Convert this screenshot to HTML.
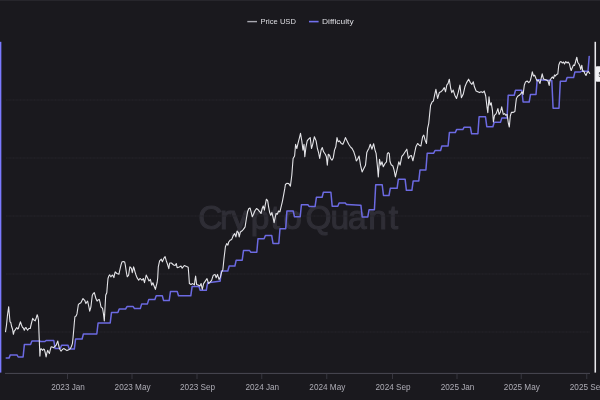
<!DOCTYPE html>
<html><head><meta charset="utf-8"><title>Price USD / Difficulty</title>
<style>
html,body{margin:0;padding:0;background:#1a191e;overflow:hidden}
body{width:600px;height:400px;position:relative;font-family:"Liberation Sans",Arial,sans-serif}
</style></head><body>
<svg width="600" height="400" viewBox="0 0 600 400" style="position:absolute;left:0;top:0">
<rect x="0" y="0" width="600" height="400" fill="#1a191e"/>
<rect x="0" y="0" width="600" height="1" fill="#27262c"/>
<text x="198.2 220 231 250.8 270.8 283.3 305.5 330.5 348 368.2 388.7" y="229.2" font-family="'Liberation Sans',Arial,sans-serif" font-size="33.5" fill="#2f2e36" stroke="#2f2e36" stroke-width="1.1">CryptoQuant</text>
<line x1="6" y1="100.0" x2="590" y2="100.0" stroke="#26252b" stroke-width="1.1" stroke-dasharray="1 0.4"/>
<line x1="6" y1="158.0" x2="590" y2="158.0" stroke="#26252b" stroke-width="1.1" stroke-dasharray="1 0.4"/>
<line x1="6" y1="216.0" x2="590" y2="216.0" stroke="#26252b" stroke-width="1.1" stroke-dasharray="1 0.4"/>
<line x1="6" y1="274.0" x2="590" y2="274.0" stroke="#26252b" stroke-width="1.1" stroke-dasharray="1 0.4"/>
<line x1="6" y1="332.0" x2="590" y2="332.0" stroke="#26252b" stroke-width="1.1" stroke-dasharray="1 0.4"/>
<line x1="5" y1="373.4" x2="590" y2="373.4" stroke="#4f4e59" stroke-width="0.9"/>
<line x1="67.50" y1="373.8" x2="67.50" y2="379" stroke="#3f3e48" stroke-width="0.8"/>
<line x1="132.00" y1="373.8" x2="132.00" y2="379" stroke="#3f3e48" stroke-width="0.8"/>
<line x1="197.00" y1="373.8" x2="197.00" y2="379" stroke="#3f3e48" stroke-width="0.8"/>
<line x1="261.75" y1="373.8" x2="261.75" y2="379" stroke="#3f3e48" stroke-width="0.8"/>
<line x1="326.75" y1="373.8" x2="326.75" y2="379" stroke="#3f3e48" stroke-width="0.8"/>
<line x1="392.50" y1="373.8" x2="392.50" y2="379" stroke="#3f3e48" stroke-width="0.8"/>
<line x1="457.00" y1="373.8" x2="457.00" y2="379" stroke="#3f3e48" stroke-width="0.8"/>
<line x1="521.25" y1="373.8" x2="521.25" y2="379" stroke="#3f3e48" stroke-width="0.8"/>
<line x1="586.75" y1="373.8" x2="586.75" y2="379" stroke="#3f3e48" stroke-width="0.8"/>
<text x="68.10" y="390" text-anchor="middle" font-family="'Liberation Sans',Arial,sans-serif" font-size="8.2" fill="#adacb5">2023 Jan</text>
<text x="132.60" y="390" text-anchor="middle" font-family="'Liberation Sans',Arial,sans-serif" font-size="8.2" fill="#adacb5">2023 May</text>
<text x="197.60" y="390" text-anchor="middle" font-family="'Liberation Sans',Arial,sans-serif" font-size="8.2" fill="#adacb5">2023 Sep</text>
<text x="262.35" y="390" text-anchor="middle" font-family="'Liberation Sans',Arial,sans-serif" font-size="8.2" fill="#adacb5">2024 Jan</text>
<text x="327.35" y="390" text-anchor="middle" font-family="'Liberation Sans',Arial,sans-serif" font-size="8.2" fill="#adacb5">2024 May</text>
<text x="393.10" y="390" text-anchor="middle" font-family="'Liberation Sans',Arial,sans-serif" font-size="8.2" fill="#adacb5">2024 Sep</text>
<text x="457.60" y="390" text-anchor="middle" font-family="'Liberation Sans',Arial,sans-serif" font-size="8.2" fill="#adacb5">2025 Jan</text>
<text x="521.85" y="390" text-anchor="middle" font-family="'Liberation Sans',Arial,sans-serif" font-size="8.2" fill="#adacb5">2025 May</text>
<text x="587.35" y="390" text-anchor="middle" font-family="'Liberation Sans',Arial,sans-serif" font-size="8.2" fill="#adacb5">2025 Sep</text>
<rect x="0" y="41.8" width="1.35" height="330.8" fill="#7b79ff"/>
<rect x="594.5" y="41.8" width="1.55" height="330.8" fill="#e8e8ec"/>
<path d="M6.2 358.1 L9.0 358.1 L10.3 354.9 L17.0 354.9 L18.2 357.0 L23.1 357.0 L24.4 344.4 L30.6 344.4 L31.9 340.9 L39.4 340.9 L40.6 341.5 L44.9 341.5 L46.1 340.5 L53.8 340.5 L55.1 348.6 L60.3 348.6 L61.6 345.2 L68.0 345.2 L69.3 349.1 L74.3 349.1 L75.6 339.0 L82.1 339.0 L83.4 334.0 L96.8 334.0 L98.1 323.0 L110.2 323.0 L111.5 312.6 L117.9 312.6 L119.2 309.0 L125.6 309.0 L127.0 306.6 L133.2 306.6 L134.5 308.6 L140.3 308.6 L141.7 303.9 L147.4 303.9 L148.8 299.4 L154.9 299.4 L156.2 295.7 L162.3 295.7 L163.6 300.6 L169.2 300.6 L170.5 291.4 L177.2 291.4 L178.5 295.8 L190.8 295.8 L192.1 286.6 L198.9 286.6 L200.2 290.3 L206.3 290.3 L207.6 282.8 L208.0 282.8 L219.3 281.2 L220.1 281.2 L221.4 271.0 L227.8 271.0 L229.2 266.0 L234.9 266.0 L236.2 260.2 L242.2 260.2 L243.5 250.6 L249.6 250.6 L250.9 252.2 L256.8 252.2 L258.0 238.8 L264.1 238.8 L265.4 235.4 L271.7 235.4 L273.0 243.4 L278.8 243.4 L280.0 228.7 L285.7 228.7 L286.9 211.0 L293.2 211.0 L294.5 216.8 L300.2 216.8 L301.4 204.8 L307.9 204.8 L309.1 206.4 L315.1 206.4 L316.4 197.3 L322.1 197.3 L323.4 192.3 L330.9 192.3 L332.2 206.2 L337.8 206.2 L339.1 203.0 L345.3 203.0 L346.6 204.6 L347.1 204.6 L360.4 205.2 L360.9 205.2 L362.2 216.9 L367.8 216.9 L369.1 209.7 L374.4 209.7 L375.7 184.8 L382.2 184.8 L383.5 195.5 L389.0 195.5 L390.3 188.3 L397.1 188.3 L398.4 179.2 L405.1 179.2 L406.4 190.3 L411.9 190.3 L413.2 180.9 L418.8 180.9 L420.0 170.0 L425.9 170.0 L427.2 153.2 L433.7 153.2 L435.0 150.5 L440.6 150.5 L441.8 146.0 L448.1 146.0 L449.4 132.6 L455.3 132.6 L456.6 129.6 L462.8 129.6 L464.0 127.3 L470.4 127.3 L471.6 133.8 L477.9 133.8 L479.1 116.8 L485.5 116.8 L486.8 126.7 L492.9 126.7 L494.2 122.3 L500.5 122.3 L501.8 118.1 L507.0 118.1 L508.2 95.2 L514.2 95.2 L515.5 90.2 L521.8 90.2 L523.1 102.0 L529.2 102.0 L530.5 94.4 L536.0 94.4 L537.2 79.8 L538.0 79.8 L551.3 80.5 L551.8 80.5 L553.1 108.3 L559.0 108.3 L560.3 81.3 L565.9 81.3 L567.1 77.6 L573.6 77.6 L574.9 72.0 L580.4 72.0 L581.6 71.2 L588.0 71.2 L589.2 56.5 L589.1 56.5" fill="none" stroke="#6c6ae2" stroke-width="1.5" stroke-linejoin="round" stroke-linecap="round"/>
<path d="M5.5 331.8 L6.5 325.0 L7.5 315.0 L8.7 306.7 L9.3 314.0 L10.0 321.8 L10.8 322.5 L11.7 326.8 L12.5 329.0 L13.4 334.3 L14.2 331.0 L15.1 330.2 L16.0 328.5 L16.8 327.6 L17.6 329.0 L18.4 328.5 L19.4 325.0 L20.4 321.8 L21.5 325.0 L22.6 327.6 L23.4 328.0 L24.3 330.2 L25.2 328.0 L26.0 327.6 L26.8 329.0 L27.6 330.2 L28.8 328.5 L30.2 328.5 L31.5 323.0 L32.7 318.4 L33.9 320.0 L35.2 320.9 L36.2 318.0 L37.2 314.7 L37.9 317.0 L38.5 320.1 L39.2 338.0 L39.9 356.1 L40.4 350.0 L41.0 348.6 L41.8 349.5 L42.7 350.3 L43.5 349.0 L44.4 349.4 L45.3 353.0 L46.1 357.0 L46.9 353.0 L47.7 350.3 L48.5 352.0 L49.4 353.6 L50.2 350.0 L51.1 346.9 L52.3 347.0 L53.6 347.7 L54.8 346.5 L56.1 345.2 L57.0 343.0 L57.8 341.0 L58.6 345.0 L59.5 348.6 L60.3 350.0 L61.1 351.1 L62.4 349.5 L63.7 348.6 L65.3 349.5 L67.0 350.6 L68.7 349.8 L70.4 348.6 L71.4 346.5 L72.4 343.6 L73.1 337.0 L73.7 330.2 L74.3 323.0 L74.9 316.8 L75.5 316.2 L76.2 315.9 L77.0 313.7 L77.7 309.0 L78.4 304.4 L79.6 303.5 L80.9 302.8 L82.0 300.5 L83.0 298.6 L84.7 300.3 L85.9 303.6 L86.8 302.0 L87.6 301.1 L88.7 306.0 L89.7 311.1 L90.9 307.0 L91.6 301.0 L92.3 295.2 L93.3 293.5 L94.3 292.7 L95.1 295.5 L95.9 298.6 L97.1 301.1 L98.2 299.8 L99.3 299.4 L100.2 303.0 L101.0 307.0 L101.8 307.5 L102.6 308.6 L103.5 314.0 L104.3 321.0 L105.0 308.0 L105.7 295.2 L106.8 292.7 L107.4 285.0 L108.0 278.5 L108.8 276.0 L109.7 274.8 L110.4 276.0 L111.0 276.8 L111.9 275.5 L112.7 275.1 L113.3 276.5 L113.9 277.6 L114.5 274.5 L115.2 271.8 L116.9 273.5 L118.9 274.3 L119.6 271.0 L120.2 268.4 L121.0 265.0 L121.9 262.1 L123.3 261.5 L124.7 262.1 L125.3 265.0 L125.8 268.4 L126.5 273.0 L127.3 276.8 L128.0 276.0 L128.6 275.1 L129.3 270.5 L129.9 266.8 L130.7 267.5 L131.4 268.4 L132.3 272.6 L133.0 269.5 L133.6 266.8 L134.3 269.0 L135.0 271.8 L136.0 275.0 L137.0 277.6 L138.7 280.2 L139.5 279.0 L140.3 278.5 L141.2 279.5 L142.0 280.2 L143.3 278.5 L143.9 280.5 L144.5 282.7 L145.4 278.5 L146.2 275.1 L147.9 278.5 L149.0 281.0 L150.4 279.3 L151.7 285.2 L152.9 282.7 L154.1 286.0 L155.4 289.4 L156.2 286.0 L157.1 282.7 L157.7 278.0 L158.3 266.8 L159.6 260.9 L161.3 259.2 L162.4 261.7 L163.8 258.4 L165.1 256.6 L166.3 260.9 L167.6 264.5 L168.8 268.7 L169.7 263.0 L171.4 263.0 L173.6 265.0 L175.1 265.5 L176.3 263.5 L177.1 267.7 L179.3 266.9 L181.0 266.0 L182.2 268.2 L184.3 265.5 L186.5 266.5 L188.2 267.2 L188.8 275.0 L189.4 283.6 L191.0 284.4 L192.7 283.6 L194.4 284.9 L195.0 280.0 L195.6 276.1 L196.1 280.0 L196.6 284.4 L198.6 285.3 L199.9 286.1 L201.1 283.6 L202.3 289.5 L203.6 283.6 L205.3 281.1 L207.0 278.6 L208.6 283.6 L210.3 281.9 L211.6 280.3 L213.3 275.2 L215.0 274.4 L216.2 277.7 L217.5 274.4 L219.0 279.4 L220.4 276.9 L221.7 271.9 L222.9 269.4 L224.0 258.5 L225.4 246.8 L226.7 243.6 L227.9 245.1 L228.7 242.0 L230.0 240.3 L231.7 239.4 L233.4 235.3 L234.7 233.6 L235.9 236.9 L237.1 231.1 L238.4 232.7 L239.2 236.9 L240.4 231.9 L241.8 231.1 L243.4 229.4 L245.1 226.9 L246.4 218.5 L247.6 211.8 L248.8 208.5 L250.1 208.1 L251.3 212.6 L252.3 216.8 L253.5 214.3 L254.8 211.0 L256.5 208.5 L258.2 209.8 L259.8 211.8 L261.0 213.5 L262.2 208.5 L263.2 205.9 L264.4 210.1 L265.2 205.1 L266.4 199.2 L267.7 200.9 L268.6 206.8 L269.7 212.6 L270.7 215.2 L271.9 212.6 L273.1 217.7 L274.1 222.7 L275.3 216.8 L276.1 213.5 L277.3 214.3 L278.6 211.0 L279.9 211.8 L281.1 206.8 L282.3 201.8 L283.6 195.1 L284.8 188.4 L285.4 184.5 L286.8 183.3 L288.8 183.6 L290.4 186.1 L291.8 175.3 L293.1 158.5 L294.6 156.0 L295.6 144.3 L296.8 148.5 L298.0 143.4 L299.3 138.4 L300.5 133.4 L301.8 140.9 L303.0 150.1 L304.0 144.3 L304.8 156.8 L306.0 146.8 L307.2 140.9 L308.5 139.2 L310.2 137.6 L311.5 148.5 L312.7 144.3 L314.4 136.7 L316.1 140.9 L317.4 148.5 L318.6 152.6 L319.7 158.5 L321.1 150.1 L322.3 147.6 L323.6 151.8 L325.3 154.3 L326.4 156.8 L327.3 165.2 L328.3 154.3 L329.5 155.2 L330.6 158.5 L332.0 160.2 L333.3 157.7 L334.5 150.1 L335.8 146.8 L337.0 137.6 L338.2 141.8 L339.5 140.9 L341.2 143.4 L342.9 144.3 L344.0 141.8 L345.4 137.6 L347.1 140.9 L348.7 144.3 L350.4 146.8 L352.1 148.5 L353.8 151.8 L355.4 156.8 L356.3 161.0 L357.6 159.3 L359.1 156.0 L360.5 165.2 L362.1 171.9 L363.8 168.6 L365.5 165.2 L366.8 152.6 L368.0 150.1 L368.9 148.4 L370.3 144.2 L372.0 149.2 L373.6 143.7 L375.0 150.1 L376.1 153.4 L377.3 165.1 L378.3 176.9 L379.5 159.3 L380.8 165.1 L382.0 161.8 L383.3 166.8 L385.0 163.5 L386.5 161.8 L387.3 153.8 L388.3 152.6 L389.3 153.6 L390.0 161.5 L391.2 164.8 L392.9 166.0 L394.1 170.2 L395.4 176.9 L397.1 169.3 L398.8 161.8 L400.1 165.1 L401.8 156.4 L403.6 154.3 L405.3 151.5 L406.8 149.2 L408.4 158.5 L410.0 156.0 L411.4 155.5 L412.9 160.8 L414.5 153.5 L415.9 146.8 L417.6 143.5 L419.3 145.2 L420.9 146.0 L422.6 136.8 L423.8 135.1 L425.1 140.1 L426.5 143.5 L427.6 128.4 L428.7 123.6 L429.7 113.6 L430.6 105.2 L432.1 101.9 L433.4 101.0 L434.6 95.2 L435.9 89.3 L437.6 98.5 L439.3 92.6 L440.9 91.8 L442.6 90.1 L444.3 87.6 L445.5 91.8 L446.8 85.1 L448.1 83.4 L449.3 79.2 L450.7 88.5 L451.8 92.6 L453.2 90.1 L454.8 95.2 L456.5 98.5 L458.2 92.6 L459.9 85.1 L461.4 97.7 L463.2 94.3 L464.9 86.8 L466.6 82.6 L468.6 79.2 L470.3 82.6 L471.9 84.3 L473.3 81.8 L474.4 86.8 L476.1 91.0 L477.8 91.8 L479.5 92.6 L481.1 91.8 L482.8 92.6 L484.2 91.0 L485.7 96.0 L487.0 106.9 L487.8 112.7 L489.0 96.8 L490.0 105.2 L491.2 102.7 L492.4 110.2 L493.4 122.0 L494.5 115.3 L496.2 113.6 L497.9 108.6 L499.1 114.4 L500.4 111.9 L501.7 106.9 L503.3 114.4 L504.6 113.6 L505.8 115.3 L507.1 114.4 L508.3 122.8 L509.3 127.0 L510.3 116.0 L511.4 112.3 L513.0 112.4 L514.9 111.4 L515.6 105.0 L516.4 98.5 L517.7 96.3 L519.3 95.3 L520.9 93.6 L522.1 91.9 L523.1 94.4 L524.3 85.2 L525.5 81.9 L527.1 81.0 L528.8 82.7 L530.2 81.0 L531.3 76.8 L532.3 71.8 L533.5 76.0 L534.7 75.2 L536.0 78.5 L537.2 81.0 L538.5 80.2 L540.0 83.5 L541.0 79.0 L542.2 73.8 L543.5 79.0 L545.0 79.5 L546.5 80.0 L548.0 81.0 L549.2 85.4 L550.0 80.0 L551.5 78.0 L552.5 77.0 L553.5 78.5 L554.5 75.0 L555.5 76.0 L556.5 74.5 L557.8 74.0 L558.8 65.0 L560.0 62.0 L561.0 61.5 L562.2 63.0 L563.5 62.0 L564.5 64.0 L565.8 61.5 L567.0 63.0 L568.2 62.0 L569.5 64.0 L570.5 68.5 L571.2 70.5 L572.2 68.0 L573.5 65.0 L574.5 65.5 L575.5 62.0 L576.8 57.2 L577.8 62.5 L579.0 64.0 L580.0 66.5 L580.8 69.5 L581.8 65.2 L582.8 71.5 L583.8 71.0 L584.8 73.5 L586.0 75.5 L587.2 72.5 L588.5 71.5 L589.7 73.5" fill="none" stroke="#e4e4e8" stroke-width="1.1" stroke-linejoin="round" stroke-linecap="round"/>
<rect x="595.9" y="66.2" width="8" height="15.6" rx="1" fill="#f2f2f5"/>
<text x="598.6" y="77" font-family="'Liberation Sans',Arial,sans-serif" font-size="8" fill="#1a191e">$110.2K</text>
<line x1="247.3" y1="21.6" x2="257" y2="21.6" stroke="#a9a9b1" stroke-width="1.4"/>
<text x="260.5" y="24.2" textLength="35.4" lengthAdjust="spacingAndGlyphs" font-family="'Liberation Sans',Arial,sans-serif" font-size="8" fill="#dedee3">Price USD</text>
<line x1="309" y1="21.6" x2="318.6" y2="21.6" stroke="#7270ee" stroke-width="1.6"/>
<text x="322" y="24.2" textLength="31.6" lengthAdjust="spacingAndGlyphs" font-family="'Liberation Sans',Arial,sans-serif" font-size="8" fill="#dedee3">Difficulty</text>
</svg>
</body></html>
